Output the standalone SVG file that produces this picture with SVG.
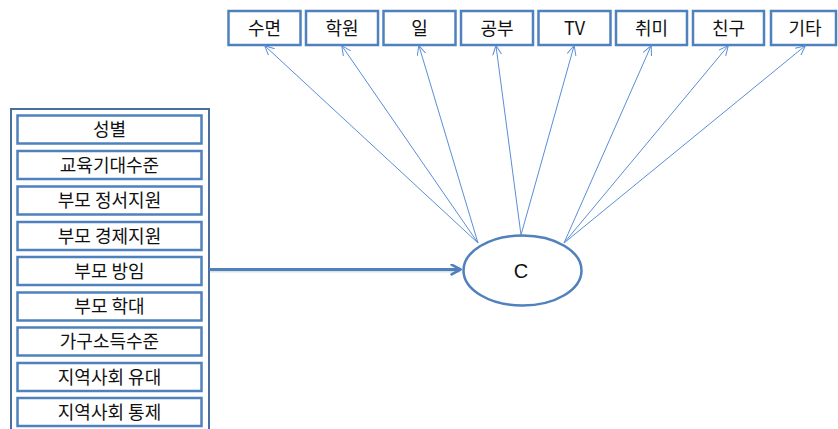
<svg xmlns="http://www.w3.org/2000/svg" width="838" height="429" viewBox="0 0 838 429">
<style>
.box{fill:#fff;stroke:#4F81BD;stroke-width:2.5}
.outer{fill:#fff;stroke:#4A6E9E;stroke-width:2}
.t{font-family:"Noto Sans CJK KR","Liberation Sans",sans-serif;font-size:18px;fill:#111;text-anchor:middle}
.fan{stroke:#5B8ED6;stroke-width:1;fill:none;marker-end:url(#thin)}
</style>
<defs>
<marker id="thin" viewBox="0 0 10 10" refX="9" refY="5" markerWidth="10" markerHeight="10" markerUnits="userSpaceOnUse" orient="auto">
<path d="M0,0.5 L9.5,5 L0,9.5" fill="none" stroke="#5B8ED6" stroke-width="1"/>
</marker>
<marker id="thick" viewBox="0 0 10 10" refX="8" refY="5" markerWidth="12" markerHeight="12" markerUnits="userSpaceOnUse" orient="auto">
<path d="M1,1 L8.5,5 L1,9" fill="none" stroke="#4F81BD" stroke-width="2.2" stroke-linecap="round" stroke-linejoin="round"/>
</marker>
</defs>
<g id="top-nodes">
<g id="n-sleep"><rect class="box" x="228.5" y="11" width="72" height="34"/><text class="t" x="264.5" y="34.5">수면</text></g>
<g id="n-academy"><rect class="box" x="306" y="11" width="72" height="34"/><text class="t" x="342" y="34.5">학원</text></g>
<g id="n-work"><rect class="box" x="383.5" y="11" width="72" height="34"/><text class="t" x="419.5" y="34.5">일</text></g>
<g id="n-study"><rect class="box" x="461" y="11" width="72" height="34"/><text class="t" x="497" y="34.5">공부</text></g>
<g id="n-tv"><rect class="box" x="538.5" y="11" width="72" height="34"/><text class="t" x="574.5" y="34.5">TV</text></g>
<g id="n-hobby"><rect class="box" x="616" y="11" width="71" height="34"/><text class="t" x="651.5" y="34.5">취미</text></g>
<g id="n-friend"><rect class="box" x="693" y="11" width="71" height="34"/><text class="t" x="728.5" y="34.5">친구</text></g>
<g id="n-etc"><rect class="box" x="771" y="11" width="65" height="34"/><text class="t" x="805" y="34.5">기타</text></g>
</g>
<g id="left-group">
<rect class="outer" x="11" y="109" width="198" height="330"/>
<g id="n-gender"><rect class="box" x="17.5" y="115.5" width="184" height="28"/><text class="t" x="109.5" y="136">성별</text></g>
<g id="n-edu"><rect class="box" x="17.5" y="151" width="184" height="28"/><text class="t" x="109.5" y="171.5">교육기대수준</text></g>
<g id="n-emo"><rect class="box" x="17.5" y="186.5" width="184" height="28"/><text class="t" x="109.5" y="207">부모 정서지원</text></g>
<g id="n-econ"><rect class="box" x="17.5" y="222" width="184" height="28"/><text class="t" x="109.5" y="242.5">부모 경제지원</text></g>
<g id="n-neglect"><rect class="box" x="17.5" y="257" width="184" height="28"/><text class="t" x="109.5" y="277.5">부모 방임</text></g>
<g id="n-abuse"><rect class="box" x="17.5" y="292.5" width="184" height="28"/><text class="t" x="109.5" y="313">부모 학대</text></g>
<g id="n-income"><rect class="box" x="17.5" y="327.5" width="184" height="28"/><text class="t" x="109.5" y="348">가구소득수준</text></g>
<g id="n-bond"><rect class="box" x="17.5" y="363" width="184" height="28"/><text class="t" x="109.5" y="383.5">지역사회 유대</text></g>
<g id="n-control"><rect class="box" x="17.5" y="398" width="184" height="28"/><text class="t" x="109.5" y="418.5">지역사회 통제</text></g>
</g>
<g id="n-c">
<ellipse cx="522.5" cy="270.5" rx="59" ry="35" fill="#fff" stroke="#4F81BD" stroke-width="2.5"/>
<text class="t" x="521" y="278" style="font-family:'Liberation Sans','Noto Sans CJK KR',sans-serif;font-size:20px">C</text>
</g>
<g id="connectors">
<line x1="210" y1="271" x2="460" y2="271" stroke="#000" stroke-opacity="0.12" stroke-width="3"/>
<line x1="209" y1="269.5" x2="460" y2="269.5" stroke="#4F81BD" stroke-width="3" marker-end="url(#thick)"/>
<line class="fan" x1="478" y1="243" x2="265" y2="46"/>
<line class="fan" x1="478" y1="243" x2="342" y2="46"/>
<line class="fan" x1="478" y1="243" x2="419" y2="46"/>
<line class="fan" x1="521" y1="235" x2="496" y2="46"/>
<line class="fan" x1="521" y1="235" x2="574" y2="46"/>
<line class="fan" x1="564" y1="243" x2="651" y2="46"/>
<line class="fan" x1="564" y1="243" x2="728" y2="46"/>
<line class="fan" x1="564" y1="243" x2="805" y2="46"/>
</g>
</svg>
